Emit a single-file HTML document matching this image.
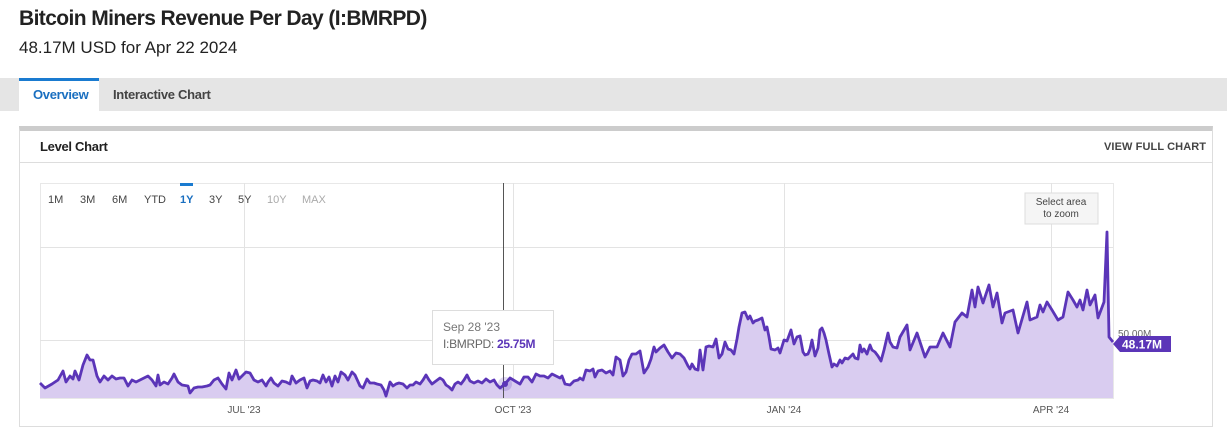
<!DOCTYPE html>
<html><head><meta charset="utf-8"><style>
body{margin:0;width:1227px;height:440px;background:#fff;font-family:"Liberation Sans",sans-serif;position:relative;overflow:hidden}
.a{position:absolute;white-space:nowrap}
</style></head><body>
<div class="a" style="left:19px;top:7px;font-size:21px;font-weight:bold;color:#222;letter-spacing:-0.6px">Bitcoin Miners Revenue Per Day (I:BMRPD)</div>
<div class="a" style="left:19px;top:38px;font-size:17px;color:#222">48.17M USD for Apr 22 2024</div>
<div class="a" style="left:0;top:78px;width:1227px;height:33px;background:#e5e5e5"></div>
<div class="a" style="left:19px;top:78px;width:80px;height:33px;background:#fff;border-top:3px solid #1a7bd0;box-sizing:border-box"></div>
<div class="a" style="left:33px;top:87px;font-size:13px;font-weight:bold;color:#1a6fc0;letter-spacing:-0.3px">Overview</div>
<div class="a" style="left:113px;top:87px;font-size:13px;font-weight:bold;color:#444;letter-spacing:-0.3px">Interactive Chart</div>
<div class="a" style="left:19px;top:126px;width:1194px;height:301px;border:1px solid #ddd;border-top:5px solid #ccc;box-sizing:border-box"></div>
<div class="a" style="left:40px;top:139px;font-size:13px;font-weight:bold;color:#222;letter-spacing:-0.3px">Level Chart</div>
<div class="a" style="left:1104px;top:141px;font-size:11px;font-weight:bold;color:#444;letter-spacing:0.1px">VIEW FULL CHART</div>
<div class="a" style="left:20px;top:162px;width:1192px;height:1px;background:#ddd"></div>
<svg class="a" style="left:0;top:0" width="1227" height="440" font-family="Liberation Sans, sans-serif">
<rect x="40.5" y="183.5" width="1073" height="215" fill="none" stroke="#e8e8e8"/>
<g stroke="#e3e3e3"><line x1="40" y1="247.5" x2="1113" y2="247.5"/><line x1="40" y1="340.5" x2="1113" y2="340.5"/>
<line x1="244.5" y1="183" x2="244.5" y2="398"/><line x1="513.5" y1="183" x2="513.5" y2="398"/><line x1="784.5" y1="183" x2="784.5" y2="398"/><line x1="1051.5" y1="183" x2="1051.5" y2="398"/></g>
<g font-size="11" fill="#444"><text x="48" y="203">1M</text><text x="80" y="203">3M</text><text x="112" y="203">6M</text><text x="144" y="203">YTD</text><text x="180" y="203" fill="#1a6fc0" font-weight="bold">1Y</text><text x="209" y="203">3Y</text><text x="238" y="203">5Y</text><text x="267" y="203" fill="#aaa">10Y</text><text x="302" y="203" fill="#aaa">MAX</text></g>
<rect x="180" y="183" width="13" height="3" fill="#1a7bd0"/>
<g font-size="10" fill="#555" text-anchor="middle"><text x="244" y="413">JUL '23</text><text x="513" y="413">OCT '23</text><text x="784" y="413">JAN '24</text><text x="1051" y="413">APR '24</text></g>
<rect x="1025" y="193" width="73" height="31" fill="#f5f5f5" stroke="#ddd"/>
<text x="1061" y="205" font-size="10" fill="#444" text-anchor="middle">Select area</text><text x="1061" y="217" font-size="10" fill="#444" text-anchor="middle">to zoom</text>
<polyline id="L" fill="#d9ccf0" stroke="none" points=""/>
<polyline id="P" fill="none" stroke="#5b35b8" stroke-width="2.8" stroke-linejoin="round" points="40,383 45,388 52,384 58,380 63,371 66,382 70,376 73,379 75,371 79,380 83,365 87,355 90,360 93,360 97,376 100,382 104,376 108,380 112,376 116,379 120,378 124,378 128,386 132,380 136,382 140,380 144,378 148,376 152,380 156,386 158,375 160,385 164,382 168,384 172,378 174,374 178,382 182,385 188,386 190,393 194,388 198,387 202,387 207,386 210,385 214,380 218,378 222,384 226,389 229,373 232,380 236,370 239,379 243,375 246,372 250,373 254,380 258,382 262,380 266,386 268,382 271,378 274,383 278,386 282,381 286,382 290,384 292,376 296,383 300,380 304,378 307,388 310,381 313,380 317,381 320,383 323,375 326,382 329,377 332,386 335,376 338,382 341,372 345,375 348,380 352,372 355,375 360,386 363,388 367,379 370,383 374,383 377,384 381,385 384,390 386,396 390,382 393,386 396,384 399,383 403,384 407,388 410,385 413,385 416,382 420,384 423,380 426,375 429,380 432,384 436,381 440,378 443,380 446,385 449,387 452,390 455,384 458,382 461,384 464,380 467,375 470,381 474,383 478,381 482,383 486,379 490,382 494,380 497,385 500,388 505,384 510,378 515,381 520,384 524,377 528,377 532,382 536,374 540,376 544,376 548,378 552,374 556,376 560,378 562,376 565,384 570,385 574,381 578,380 580,378 583,380 586,370 590,371 593,369 595,377 598,371 602,370 606,373 610,371 613,375 616,357 620,360 623,376 626,372 629,360 632,354 636,354 640,351 644,373 648,367 651,359 654,347 656,352 660,348 664,345 668,352 672,358 676,353 680,354 684,358 688,366 690,369 692,364 695,369 698,370 700,350 703,370 706,347 709,346 713,347 716,339 719,358 722,354 725,342 728,349 731,350 734,354 737,339 739,327 742,313 745,312 748,319 750,316 753,323 755,321 758,320 762,318 765,330 767,327 769,337 771,349 775,350 778,348 780,353 784,340 787,341 791,330 794,344 797,337 800,336 803,352 805,355 808,354 810,349 812,340 815,356 818,348 820,330 822,328 824,333 826,340 829,354 832,367 834,364 837,366 840,360 842,363 845,358 848,359 850,357 853,354 855,358 858,359 860,345 862,352 864,349 867,354 870,345 872,350 875,352 878,356 881,361 884,350 888,333 890,342 893,347 897,348 900,337 907,325 910,350 917,333 925,357 930,347 937,347 943,333 950,347 955,322 962,313 967,317 972,290 975,307 978,287 983,303 989,285 993,307 997,293 1002,323 1005,313 1013,310 1018,333 1027,302 1030,320 1037,317 1040,305 1043,312 1047,302 1052,310 1058,320 1063,317 1068,292 1073,300 1077,307 1080,300 1083,310 1087,290 1090,305 1095,295 1098,318 1104,302 1107,232 1109,337 1113,342"/>
<line x1="503.5" y1="183" x2="503.5" y2="398" stroke="#555"/>
<circle cx="505" cy="384" r="7" fill="#5b35b8" opacity="0.2"/><circle cx="505" cy="384" r="3" fill="#5b35b8"/>
<rect x="432.5" y="310.5" width="121" height="54" fill="#fff" stroke="#ddd"/>
<text x="443" y="331" font-size="12" fill="#777">Sep 28 '23</text>
<text x="443" y="348" font-size="12" fill="#666" letter-spacing="-0.3">I:BMRPD: <tspan fill="#5b35b8" font-weight="bold">25.75M</tspan></text>
<text x="1118" y="337" font-size="10" fill="#666">50.00M</text>
<polygon points="1113,344 1120,336 1171,336 1171,352 1120,352" fill="#5b35b8"/>
<text x="1122" y="348.5" font-size="12" font-weight="bold" fill="#fff">48.17M</text>
</svg>
<script>
var p=document.getElementById('P').getAttribute('points');
document.getElementById('L').setAttribute('points','40,398 '+p+' 1113,398');
</script>
</body></html>
